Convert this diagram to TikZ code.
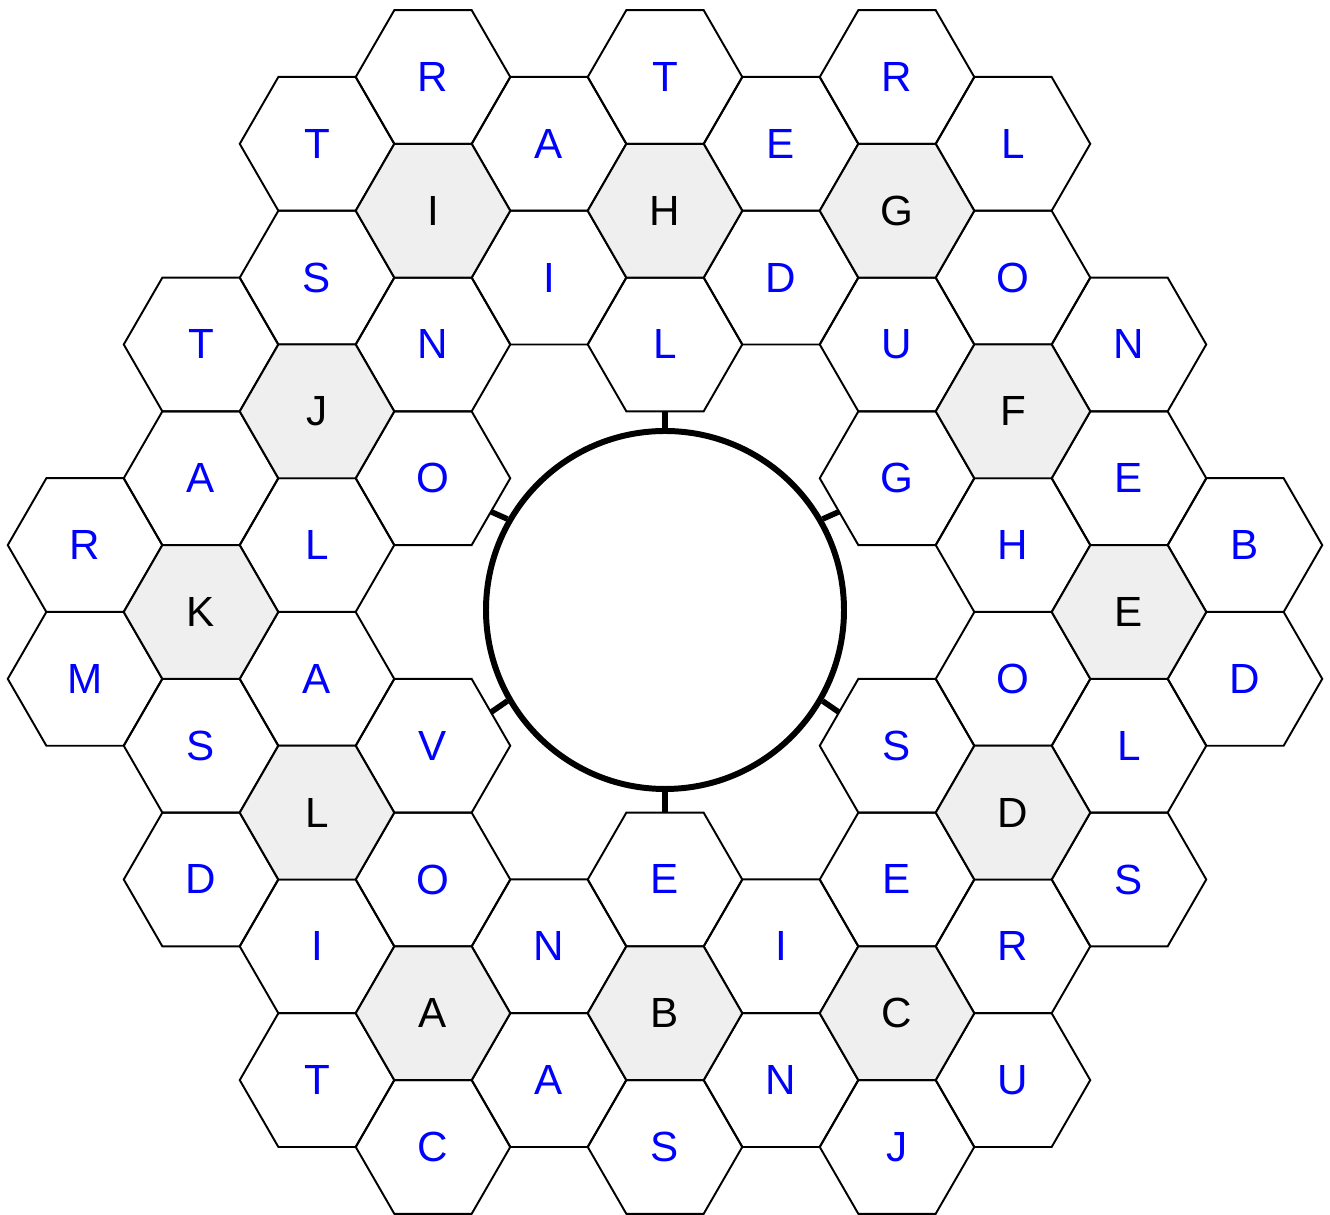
\documentclass[tikz,border=0pt]{standalone}
\usepackage{fontspec}
\setmainfont{Liberation Sans}
\usetikzlibrary{shapes.geometric}
\definecolor{keygray}{HTML}{EFEFEF}
\definecolor{letterblue}{RGB}{0,0,255}
\tikzset{
  hexcell/.style={regular polygon, regular polygon sides=6, minimum size=3.09cm,
    inner sep=0pt, outer sep=0pt, draw, line width=1.1pt, text=letterblue,
    font=\fontsize{24}{24}\selectfont},
  hexkey/.style={hexcell, fill=keygray, text=black},
  ringline/.style={circle, draw, line width=3.4pt, minimum size=7.16cm, inner sep=0pt},
  spoke/.style={line width=3.2pt}
}
\begin{document}
\begin{tikzpicture}
  \useasboundingbox (0,0) rectangle (26.6,24.3);
  % letter cells
  \foreach \c/\k/\t in {0/7/R, 0/9/M,
      1/4/T, 1/6/A, 1/10/S, 1/12/D,
      2/1/T, 2/3/S, 2/7/L, 2/9/A, 2/13/I, 2/15/T,
      3/0/R, 3/4/N, 3/6/O, 3/10/V, 3/12/O, 3/16/C,
      4/1/A, 4/3/I, 4/13/N, 4/15/A,
      5/0/T, 5/4/L, 5/12/E, 5/16/S,
      6/1/E, 6/3/D, 6/13/I, 6/15/N,
      7/0/R, 7/4/U, 7/6/G, 7/10/S, 7/12/E, 7/16/J,
      8/1/L, 8/3/O, 8/7/H, 8/9/O, 8/13/R, 8/15/U,
      9/4/N, 9/6/E, 9/10/L, 9/12/S,
      10/7/B, 10/9/D}
    \node[hexcell] (h-\c-\k) at ({1.7+2.32*\c},{22.76-1.3375*\k}) {\t};
  % key cells
  \foreach \c/\k/\t in {1/8/K, 2/5/J, 2/11/L, 3/2/I, 3/14/A, 5/2/H, 5/14/B,
      7/2/G, 7/14/C, 8/5/F, 8/11/D, 9/8/E}
    \node[hexkey] (h-\c-\k) at ({1.7+2.32*\c},{22.76-1.3375*\k}) {\t};
  % centre ring
  \node[ringline] (ring) at (13.3,12.1) {};
  \draw[spoke] (ring.north) -- (h-5-4.south);
  \draw[spoke] (ring.south) -- (h-5-12.north);
  \draw[spoke] (ring.150) -- (h-3-6.-30);
  \draw[spoke] (ring.30) -- (h-7-6.210);
  \draw[spoke] (ring.210) -- (h-3-10.30);
  \draw[spoke] (ring.-30) -- (h-7-10.150);
\end{tikzpicture}
\end{document}
